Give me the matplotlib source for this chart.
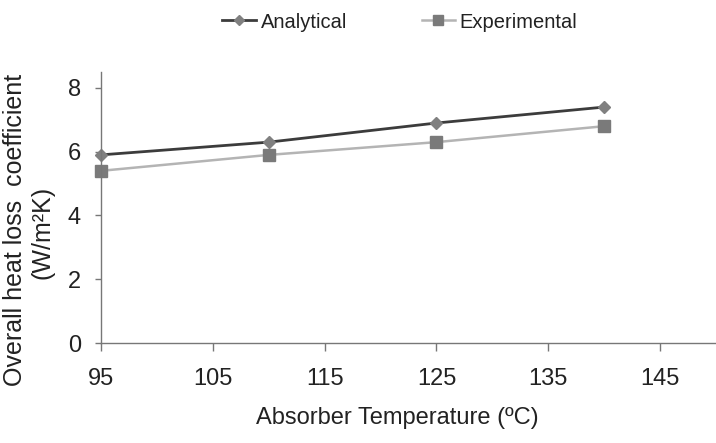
import matplotlib
matplotlib.use("Agg")
import matplotlib.pyplot as plt

temps = [95, 110, 125, 140]
analytical = [5.9, 6.3, 6.9, 7.4]
experimental = [5.4, 5.9, 6.3, 6.8]
xticks = [95, 105, 115, 125, 135, 145]
yticks = [0, 2, 4, 6, 8]

plt.rcParams['font.family'] = ['Liberation Sans', 'DejaVu Sans']

fig = plt.figure(figsize=(7.16, 4.43), dpi=100)
ax = fig.add_axes([101/716, 1-343/443, 615/716, (343-72)/443])

ax.plot(temps, analytical, color='#3c3c3c', lw=2, marker='D', ms=6,
        mfc='#808080', mec='#808080', label='Analytical', clip_on=False)
ax.plot(temps, experimental, color='#b4b4b4', lw=1.8, marker='s', ms=8,
        mfc='#7a7a7a', mec='#7a7a7a', label='Experimental', clip_on=False)

ax.set_xlim(95, 150)
ax.set_ylim(0, 8.5)
ax.set_xticks(xticks)
ax.set_yticks(yticks)
ax.tick_params(axis='x', labelsize=17, colors='#222222', length=6, width=1, color='#777777', pad=12)
ax.tick_params(axis='y', labelsize=17, colors='#222222', length=4.5, width=1, color='#777777', pad=10)
for s in ['top', 'right']:
    ax.spines[s].set_visible(False)
for s in ['left', 'bottom']:
    ax.spines[s].set_color('#777777')
    ax.spines[s].set_linewidth(1)

fig.text(397/716, 1-418/443, 'Absorber Temperature (ºC)', fontsize=17,
         color='#222222', ha='center', va='center')
fig.text(15/716, 1-230/443, 'Overall heat loss  coefficient', rotation=90,
         fontsize=18, color='#222222', ha='center', va='center')
fig.text(42/716, 1-232/443, '(W/m²K)', rotation=90,
         fontsize=18, color='#222222', ha='center', va='center')

fig.legend(loc='center', bbox_to_anchor=(400/716, 1-22/443), ncol=2, frameon=False,
           fontsize=14.5, handlelength=1.65, handletextpad=0.25, columnspacing=3.7,
           labelcolor='#222222', markerscale=0.9)

fig.savefig('out.png', dpi=100)
